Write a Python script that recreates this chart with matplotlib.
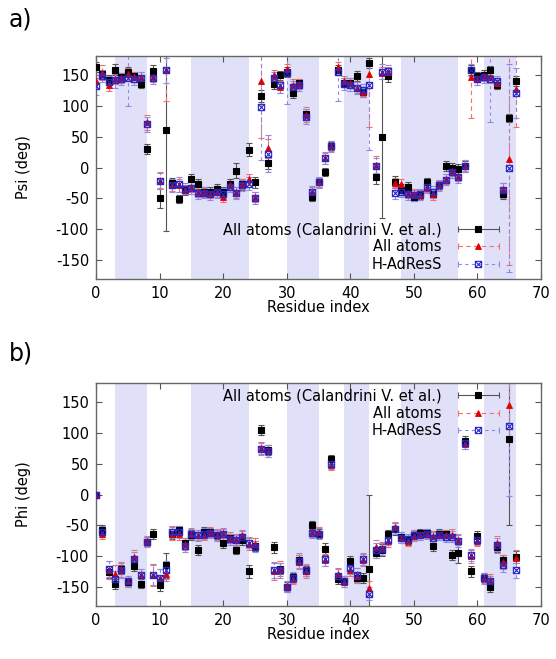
import numpy as np
import matplotlib
matplotlib.use('Agg')
import matplotlib.pyplot as plt
from matplotlib.path import Path
from matplotlib.lines import Line2D
from matplotlib.legend_handler import HandlerLine2D

plt.rcParams['font.family'] = ['DejaVu Sans']
plt.rcParams['axes.unicode_minus'] = False

residues = np.arange(67)

# shaded residue ranges
bands = [(3, 8), (15, 24), (30, 35), (39, 43), (48, 57), (61, 66)]

labels = ['All atoms (Calandrini V. et al.)', 'All atoms', 'H-AdResS']

# ---- Psi ----
psi_ref = [162, 151, 141, 158, 146, 155, 148, 135, 30, 156,
           -50, 61, -25, -51, -37, -19, -27, -39, -39, -35,
           -39, -26, -5, -27, 29, -24, 115, 7, 135, 149,
           154, 120, 136, 87, -47, -24, -7, 35, 157, 137,
           137, 148, 122, 169, -15, 50, 147, -23, -36, -31,
           -47, -44, -24, -42, -28, 3, -1, -2, 2, 157,
           147, 149, 157, 134, -42, 80, 140]
psi_ref_err = [8, 7, 8, 9, 7, 8, 7, 7, 8, 9,
               16, 163, 8, 6, 7, 9, 8, 7, 7, 8,
               7, 8, 12, 9, 11, 9, 10, 9, 8, 7,
               8, 7, 7, 8, 7, 7, 6, 7, 8, 7,
               7, 8, 8, 8, 12, 132, 9, 10, 9, 8,
               7, 7, 7, 8, 7, 8, 9, 8, 9, 8,
               8, 8, 7, 8, 9, 7, 8]
psi_aa = [139, 153, 133, 143, 145, 151, 146, 146, 73, 146,
          -21, 158, -29, -29, -36, -31, -40, -40, -42, -39,
          -47, -29, -40, -26, -19, -47, 139, 31, 149, 130,
          159, 134, 135, 85, -39, -24, 15, 35, 162, 139,
          137, 129, 122, 151, 4, 153, 154, -25, -26, -41,
          -43, -45, -33, -43, -29, -19, -5, -13, 3, 146,
          143, 147, 146, 136, -35, 13, 126]
psi_aa_err = [10, 12, 9, 8, 8, 9, 8, 8, 12, 8,
              14, 51, 9, 10, 7, 8, 8, 7, 7, 8,
              8, 8, 9, 8, 9, 8, 92, 15, 8, 9,
              8, 9, 8, 12, 8, 7, 9, 8, 9, 8,
              8, 9, 8, 85, 15, 10, 9, 8, 8, 9,
              8, 8, 8, 9, 8, 8, 8, 9, 9, 66,
              9, 8, 9, 8, 10, 170, 60]
psi_adress = [131, 148, 138, 141, 143, 145, 143, 144, 70, 145,
              -21, 157, -29, -27, -34, -33, -41, -41, -43, -40,
              -42, -31, -41, -29, -26, -49, 97, 22, 145, 133,
              153, 130, 133, 82, -39, -24, 15, 34, 155, 135,
              134, 128, 125, 133, 3, 155, 156, -41, -39, -43,
              -45, -43, -31, -40, -29, -20, -8, -15, 2, 157,
              143, 146, 143, 139, -37, -1, 120]
psi_adress_err = [14, 10, 10, 12, 10, 45, 9, 10, 12, 10,
                  12, 20, 10, 12, 9, 9, 10, 9, 9, 10,
                  9, 9, 10, 9, 10, 10, 85, 30, 10, 12,
                  50, 10, 9, 12, 9, 9, 10, 9, 48, 10,
                  10, 10, 10, 104, 12, 12, 10, 10, 9, 9,
                  9, 9, 9, 10, 9, 9, 9, 10, 10, 10,
                  10, 9, 69, 9, 12, 168, 40]

# ---- Phi ----
phi_ref = [0, -57, -125, -144, -121, -142, -115, -144, -76, -64,
           -146, -114, -64, -58, -78, -65, -89, -60, -61, -65,
           -79, -71, -89, -74, -124, -83, 104, 72, -85, -120,
           -150, -133, -106, -124, -49, -63, -88, 57, -136, -139,
           -108, -135, -135, -120, -94, -90, -64, -56, -68, -74,
           -65, -62, -62, -83, -63, -64, -98, -94, 87, -124,
           -67, -135, -150, -85, -106, 90, -101]
phi_ref_err = [3, 7, 9, 8, 8, 7, 8, 7, 7, 8,
               9, 20, 8, 7, 8, 8, 8, 7, 6, 7,
               8, 8, 7, 8, 10, 8, 8, 8, 9, 9,
               8, 7, 8, 8, 7, 7, 10, 7, 8, 7,
               8, 8, 8, 120, 8, 10, 7, 10, 7, 7,
               7, 7, 7, 8, 7, 7, 8, 16, 8, 9,
               8, 7, 8, 8, 9, 139, 10]
phi_aa = [0, -64, -122, -128, -121, -140, -101, -130, -75, -130,
          -135, -128, -63, -63, -80, -64, -65, -65, -60, -65,
          -62, -70, -72, -65, -80, -80, 75, 70, -124, -120,
          -147, -136, -109, -124, -61, -61, -106, 48, -128, -141,
          -122, -131, -106, -151, -85, -87, -75, -52, -71, -75,
          -67, -65, -63, -67, -65, -66, -65, -73, 81, -100,
          -75, -135, -138, -79, -109, 145, -103]
phi_aa_err = [3, 8, 14, 14, 12, 8, 12, 10, 8, 18,
              14, 12, 10, 10, 9, 8, 8, 8, 8, 9,
              8, 9, 9, 8, 9, 9, 10, 10, 14, 12,
              8, 8, 12, 10, 8, 8, 10, 8, 10, 9,
              10, 12, 10, 12, 12, 10, 9, 8, 8, 8,
              8, 8, 8, 8, 8, 8, 9, 9, 8, 10,
              8, 8, 9, 12, 12, 60, 14]
phi_adress = [0, -60, -120, -136, -122, -140, -104, -130, -76, -130,
              -134, -122, -61, -61, -83, -63, -66, -63, -62, -66,
              -64, -72, -74, -68, -78, -84, 73, 70, -122, -122,
              -149, -134, -107, -122, -62, -63, -104, 50, -131, -140,
              -118, -130, -104, -160, -90, -88, -73, -55, -70, -72,
              -66, -66, -64, -70, -66, -68, -68, -75, 83, -98,
              -73, -135, -140, -82, -113, 111, -122]
phi_adress_err = [3, 9, 13, 13, 12, 9, 12, 10, 8, 16,
                  13, 14, 10, 10, 9, 9, 9, 9, 8, 9,
                  9, 9, 9, 9, 9, 9, 10, 10, 13, 12,
                  9, 9, 12, 10, 9, 9, 11, 9, 10, 9,
                  10, 12, 10, 10, 12, 10, 9, 9, 9, 8,
                  8, 8, 8, 9, 8, 8, 9, 9, 9, 10,
                  9, 9, 9, 12, 12, 114, 12]

# box with a cross inside, for H-AdResS
box_x = Path([(-1, -1), (1, -1), (1, 1), (-1, 1), (-1, -1),
              (-1, -1), (1, 1), (-1, 1), (1, -1)],
             [Path.MOVETO, Path.LINETO, Path.LINETO, Path.LINETO, Path.CLOSEPOLY,
              Path.MOVETO, Path.LINETO, Path.MOVETO, Path.LINETO])

styles = [
    dict(marker='s', ms=4.5, mcolor='black', ecolor='#555555', ls='-', mew=0.8),
    dict(marker='^', ms=5, mcolor='#e00000', ecolor='#f07070', ls=(0, (4, 3)), mew=0.6),
    dict(marker=box_x, ms=4.5, mcolor='#2626c8', ecolor='#8c8ce6', ls=(0, (3, 3)), mew=0.8),
]

band_color = '#e0e0f8'
fs = 10.5


def draw_panel(ax, series, ylabel, legend_loc, legend_anchor):
    for a, b in bands:
        ax.axvspan(a, b, color=band_color, lw=0, zorder=0)
    handles = []
    handler_map = {}
    for (y, err), st in zip(series, styles):
        _, _, bars = ax.errorbar(residues, y, yerr=err, fmt='none', ecolor=st['ecolor'],
                                 elinewidth=0.8, capsize=2, capthick=0.8, zorder=2)
        bars[0].set_linestyle(st['ls'])
        ax.plot(residues, y, ls='none', marker=st['marker'], ms=st['ms'],
                mfc=st['mcolor'] if st['marker'] != box_x else 'none',
                mec=st['mcolor'], mew=st['mew'], zorder=3)
        caps = Line2D([], [], color=st['ecolor'], ls=st['ls'], lw=0.8, marker='|', ms=5,
                      mew=0.8)
        mark = Line2D([], [], ls='none', marker=st['marker'], ms=st['ms'],
                      mfc=st['mcolor'] if st['marker'] != box_x else 'none',
                      mec=st['mcolor'], mew=st['mew'])
        handler_map[caps] = HandlerLine2D(numpoints=2)
        handler_map[mark] = HandlerLine2D(numpoints=1)
        handles.append((caps, mark))

    ax.set_xlim(0, 70)
    ax.set_ylim(-180, 180)
    ax.set_xticks(range(0, 71, 10))
    ax.set_yticks(range(-150, 151, 50))
    ax.tick_params(direction='in', top=True, right=True, length=4, width=0.8,
                   color='#555555', labelsize=fs, pad=5)
    for sp in ax.spines.values():
        sp.set_color('#666666')
        sp.set_linewidth(1.0)
    ax.set_xlabel('Residue index', fontsize=fs, labelpad=-1)
    ax.set_ylabel(ylabel, fontsize=fs)
    ax.yaxis.set_label_coords(-0.146, 0.5)
    ax.legend(handles, labels, handler_map=handler_map, loc=legend_loc,
              bbox_to_anchor=legend_anchor, frameon=False, markerfirst=False,
              fontsize=fs, handlelength=3.4, handletextpad=0.8, labelspacing=0.15,
              borderpad=0, borderaxespad=0)


fig = plt.figure(figsize=(5.56, 6.59), dpi=100)
ax1 = fig.add_axes([0.1727, 0.5766, 0.8004, 0.3384])
ax2 = fig.add_axes([0.1727, 0.0804, 0.8004, 0.3384])

draw_panel(ax1, [(psi_ref, psi_ref_err), (psi_aa, psi_aa_err), (psi_adress, psi_adress_err)],
           'Psi (deg)', 'lower right', (0.915, 0.033))
draw_panel(ax2, [(phi_ref, phi_ref_err), (phi_aa, phi_aa_err), (phi_adress, phi_adress_err)],
           'Phi (deg)', 'upper right', (0.915, 0.975))

fig.text(0.016, 0.988, 'a)', fontsize=17, va='top')
fig.text(0.016, 0.482, 'b)', fontsize=17, va='top')

fig.savefig('out.png', dpi=100)
